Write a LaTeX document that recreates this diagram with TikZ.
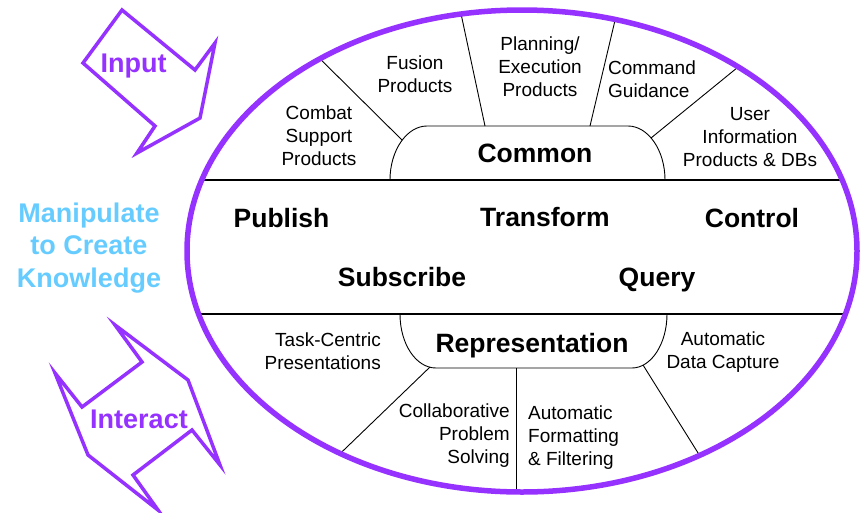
\documentclass[tikz,border=0pt]{standalone}
\usepackage{fontspec}
\setmainfont{Liberation Sans}
\definecolor{purp}{RGB}{150,50,255}
\definecolor{lblue}{RGB}{102,204,255}
\begin{document}
\begin{tikzpicture}[x=1pt,y=-1pt,
  small/.style={font=\fontsize{19}{23}\selectfont, align=center, inner sep=0pt},
  bigtxt/.style={font=\fontsize{26.5}{30}\selectfont\bfseries, inner sep=0pt, anchor=base},
  sidetxt/.style={font=\fontsize{27}{32.5}\selectfont\bfseries, inner sep=0pt},
  divider/.style={black, line width=0.9pt},
  sepline/.style={black, line width=1.3pt},
  arrowshape/.style={draw=purp, line width=3.5pt, line join=miter}]
\useasboundingbox (0,0) rectangle (860,512);

% ellipse content clipped
\begin{scope}
\clip (522,251) ellipse [x radius=335, y radius=241];
\draw[sepline] (150,180) -- (900,180);
\draw[sepline] (150,314) -- (900,314);
% Common box
\draw[divider] (390,180) .. controls (390,150) and (407,126) .. (427,126) -- (628,126) .. controls (648,126) and (665,150) .. (665,180);
% Representation box
\draw[divider] (400,314) .. controls (400,344) and (416,368) .. (436,368) -- (632,368) .. controls (651,368) and (667,344) .. (667,314);
% top dividers
\draw[divider] (402,140) -- (300,39);
\draw[divider] (485,126) -- (457,-5);
\draw[divider] (590,126) -- (621,-5);
\draw[divider] (651,138) -- (770,41);
% bottom dividers
\draw[divider] (430,367) -- (320,473);
\draw[divider] (516,368) -- (516,520);
\draw[divider] (643,365) -- (720,488);
\end{scope}
\draw[purp, line width=5.5pt] (522,251) ellipse [x radius=335, y radius=241];

% arrows
\draw[arrowshape] (122,10) -- (195,70) -- (215,43) -- (200,118) -- (137,153) -- (155,126) -- (83,63) -- cycle;
\draw[arrowshape] (115,325) -- (188,380) -- (220,465) -- (192,430) -- (133,475) -- (158,510) -- (88,455) -- (55,373) -- (82,407) -- (142,362) -- cycle;

\node[sidetxt, anchor=base, text=purp] (input) at (133.5,72.5) {Input};
\node[sidetxt, anchor=base, text=purp] (interact) at (139,428) {Interact};
\node[sidetxt, align=center, text=lblue] (manip) at (89,248) {Manipulate\\to Create\\Knowledge};

% small labels
\node[small] (combat) at (319,136) {Combat\\Support\\Products};
\node[small] (fusion) at (415,74.5) {Fusion\\Products};
\node[small] (planning) at (540,67) {Planning/\\Execution\\Products};
\node[small, align=left, anchor=west] (command) at (608,79) {Command\\Guidance};
\node[small] (user) at (750,137) {User\\Information\\Products \& DBs};
\node[small, align=right, anchor=east] (task) at (381,351) {Task-Centric\\Presentations};
\node[small] (capture) at (723,352.5) {Automatic\\Data Capture};
\node[small, align=right, anchor=east] (collab) at (510,436) {Collaborative\\Problem\\Solving};
\node[small, align=left, anchor=west] (format) at (528,438) {Automatic\\Formatting\\\& Filtering};

% big labels
\node[bigtxt] (common) at (535,162.5) {Common};
\node[bigtxt] (repr) at (532,352) {Representation};
\node[bigtxt] (publish) at (281.5,227) {Publish};
\node[bigtxt] (transform) at (545,226) {Transform};
\node[bigtxt] (control) at (752,227) {Control};
\node[bigtxt] (subscribe) at (402,286.5) {Subscribe};
\node[bigtxt] (query) at (657,286.5) {Query};
\end{tikzpicture}
\end{document}
